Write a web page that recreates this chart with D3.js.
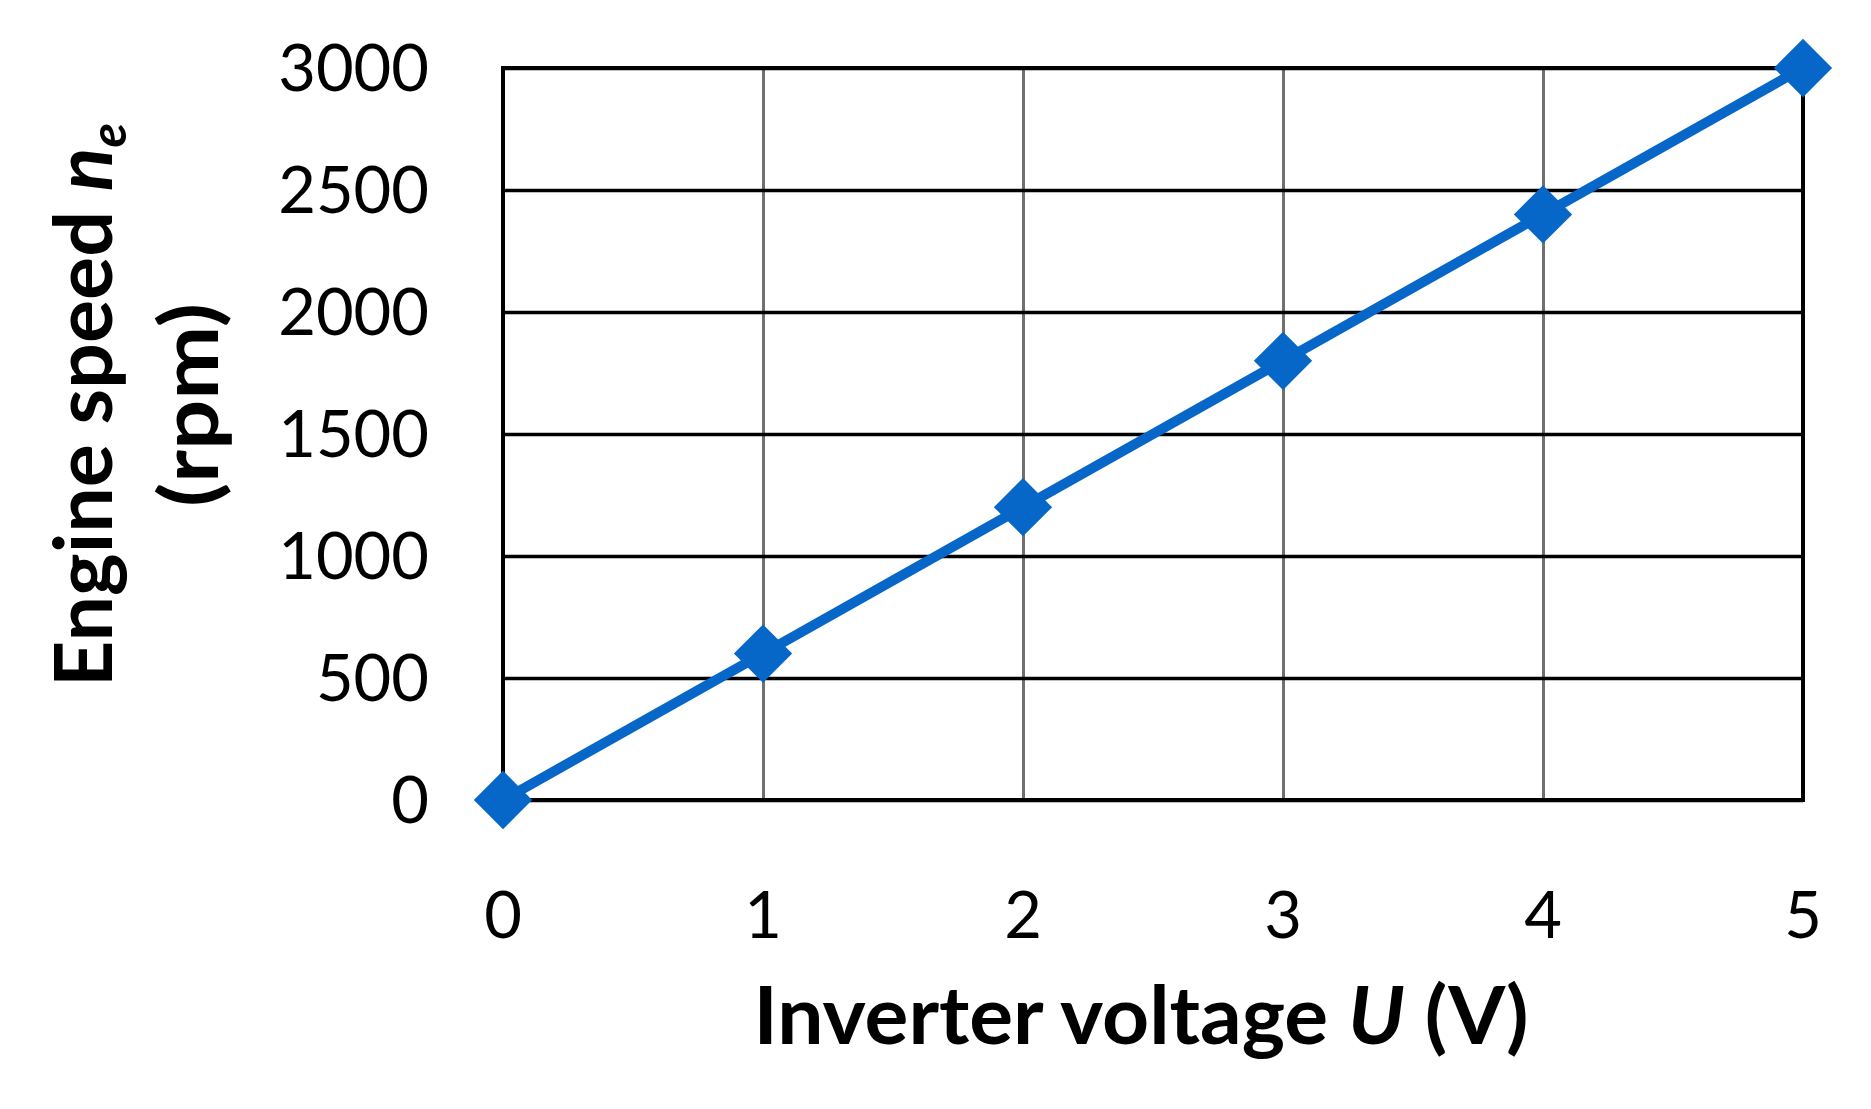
<!DOCTYPE html>
<html>
<head>
<meta charset="utf-8">
<script src="https://cdn.jsdelivr.net/npm/d3@7"></script>
<style>
  html, body { margin: 0; padding: 0; background: #fff; }
  svg { display: block; }
  text { font-family: Lato, "Open Sans", "DejaVu Sans", sans-serif; fill: #000; }
</style>
</head>
<body>
<svg id="chart" width="1871" height="1109"></svg>
<script>
// ---- data ----
const voltages = [0, 1, 2, 3, 4, 5];
const speeds = [0, 600, 1200, 1800, 2400, 3000];
const xTicks = [0, 1, 2, 3, 4, 5];
const yTicks = [0, 500, 1000, 1500, 2000, 2500, 3000];
const xTitle = "Inverter voltage ";
const xTitleVar = "U";
const xTitleUnit = " (V)";
const yTitleMain = "Engine speed ";
const yTitleVar = "n";
const yTitleSub = "e";
const yTitleUnit = "(rpm)";

// ---- layout ----
const svg = d3.select("#chart");
const pLeft = 503, pRight = 1803, pTop = 68, pBottom = 800;
const blue = "#0667c8";

const x = d3.scaleLinear().domain([0, 5]).range([pLeft, pRight]);
const y = d3.scaleLinear().domain([0, 3000]).range([pBottom, pTop]);

// vertical grid lines (gray)
svg.append("g")
  .attr("transform", `translate(0,${pBottom})`)
  .call(d3.axisBottom(x).tickValues(xTicks).tickSize(-(pBottom - pTop)).tickFormat(""))
  .call(g => g.select(".domain").remove())
  .call(g => g.selectAll("line").attr("stroke", "#707070").attr("stroke-width", 3));

// horizontal grid lines (black)
svg.append("g")
  .attr("transform", `translate(${pLeft},0)`)
  .call(d3.axisLeft(y).tickValues(yTicks).tickSize(-(pRight - pLeft)).tickFormat(""))
  .call(g => g.select(".domain").remove())
  .call(g => g.selectAll("line").attr("stroke", "#000").attr("stroke-width", 3.5));

// plot border
svg.append("rect")
  .attr("x", x(0)).attr("y", y(3000))
  .attr("width", x(5) - x(0)).attr("height", y(0) - y(3000))
  .attr("fill", "none").attr("stroke", "#000").attr("stroke-width", 4);

// y tick labels
svg.append("g").selectAll("text").data(yTicks).join("text")
  .attr("x", 429).attr("y", d => y(d))
  .attr("dy", "0.36em")
  .attr("text-anchor", "end")
  .attr("font-size", 65)
  .text(d => d);

// x tick labels
svg.append("g").selectAll("text").data(xTicks).join("text")
  .attr("x", d => x(d)).attr("y", 938)
  .attr("text-anchor", "middle")
  .attr("font-size", 65)
  .text(d => d);

// series line
svg.append("path")
  .datum(voltages.map((v, i) => [v, speeds[i]]))
  .attr("fill", "none")
  .attr("stroke", blue)
  .attr("stroke-width", 10)
  .attr("stroke-linejoin", "round")
  .attr("d", d3.line().x(d => x(d[0])).y(d => y(d[1])));

// diamond markers
const diamond = d3.symbol().type(d3.symbolSquare).size(1700);
svg.append("g").selectAll("path").data(voltages.map((v, i) => [v, speeds[i]])).join("path")
  .attr("transform", d => `translate(${x(d[0])},${y(d[1])}) rotate(45)`)
  .attr("d", diamond)
  .attr("fill", blue);

// x axis title
const xt = svg.append("text")
  .attr("x", 1141).attr("y", 1044)
  .attr("text-anchor", "middle")
  .attr("font-size", 80)
  .attr("font-weight", "bold")
  .attr("textLength", 775)
  .attr("lengthAdjust", "spacingAndGlyphs");
xt.append("tspan").text(xTitle);
xt.append("tspan").attr("font-style", "italic").text(xTitleVar);
xt.append("tspan").text(xTitleUnit);

// y axis title (two lines, rotated)
const yt = svg.append("g").attr("transform", "translate(112,405) rotate(-90)");
const l1 = yt.append("text")
  .attr("x", 0).attr("y", 0)
  .attr("text-anchor", "middle")
  .attr("font-size", 80)
  .attr("font-weight", "bold")
  .attr("textLength", 564)
  .attr("lengthAdjust", "spacingAndGlyphs");
l1.append("tspan").text(yTitleMain);
l1.append("tspan").attr("font-style", "italic").text(yTitleVar);
l1.append("tspan").attr("font-style", "italic").attr("font-size", 50).attr("dy", 14).text(yTitleSub);

yt.append("text")
  .attr("x", 0).attr("y", 106)
  .attr("text-anchor", "middle")
  .attr("font-size", 80)
  .attr("font-weight", "bold")
  .attr("textLength", 204)
  .attr("lengthAdjust", "spacingAndGlyphs")
  .text(yTitleUnit);
</script>
</body>
</html>
